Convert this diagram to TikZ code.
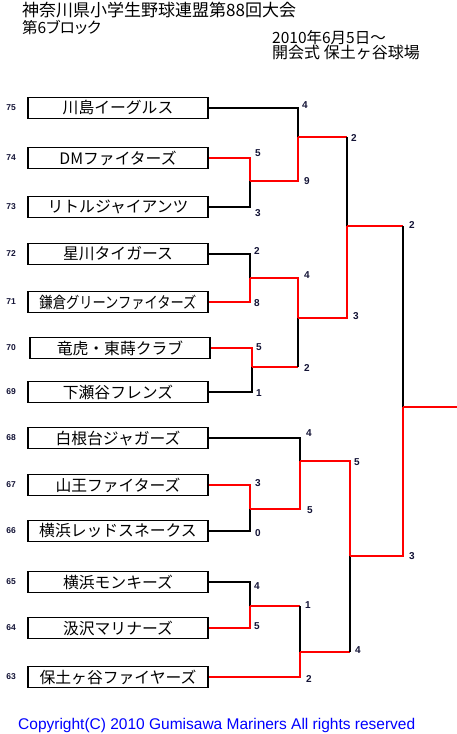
\documentclass[tikz,border=0pt]{standalone}
\usepackage{fontspec}
\setmainfont{Liberation Sans}
\newfontfamily\jpfont{Noto Sans CJK JP}
\newfontfamily\jphead[RawFeature=+palt]{Noto Sans CJK JP}
\usepackage{tikz}
\usetikzlibrary{positioning,calc}
\definecolor{ink}{RGB}{20,20,55}
\definecolor{winred}{RGB}{255,0,0}
\definecolor{copyblue}{RGB}{0,0,255}

\begin{document}
\begin{tikzpicture}[
    x=1pt, y=-1pt,
    team/.style={rectangle, draw, line width=1.8pt, fill=white, minimum width=180pt, minimum height=21pt, inner sep=0pt, font=\jpfont\fontsize{15.8}{16}\selectfont},
    seed/.style={inner sep=0pt, text=ink, font=\bfseries\fontsize{8.5}{9}\selectfont},
    score/.style={inner sep=0pt, text=ink, font=\bfseries\fontsize{10}{11}\selectfont},
    head/.style={anchor=base west, inner sep=0pt, font=\jpfont\fontsize{16}{16}\selectfont},
    lose/.style={line width=1.6pt, black},
    win/.style={line width=1.6pt, winred}
]
\useasboundingbox (0,0) rectangle (457,734);
\fill[white] (0,0) rectangle (457,734);

% Header
\node[head, font=\jpfont\fontsize{17}{17}\selectfont] (title) at (22,16) {神奈川県小学生野球連盟第88回大会};
\node[head, font=\jphead\fontsize{15.5}{16}\selectfont] (block) at (22,33) {第6ブロック};
\node[head, font=\jpfont\fontsize{15.5}{16}\selectfont] (date) at (272,43) {2010年6月5日～};
\node[head] (venue) at (272,58) {開会式 保土ヶ谷球場};

% Teams
\node[team] (t75) at (118,108) {川島イーグルス};
\node[team] (t74) at (118,158) {DMファイターズ};
\node[team] (t73) at (118,207) {リトルジャイアンツ};
\node[team] (t72) at (118,254) {星川タイガース};
\node[team] (t71) at (118,302) {\scalebox{0.84}[1]{鎌倉グリーンファイターズ}};
\node[team] (t70) at (120,348) {竜虎・東蒔クラブ};
\node[team] (t69) at (118,392) {下瀬谷フレンズ};
\node[team] (t68) at (118,438) {白根台ジャガーズ};
\node[team] (t67) at (118,485) {山王ファイターズ};
\node[team] (t66) at (118,531) {横浜レッドスネークス};
\node[team] (t65) at (118,582) {横浜モンキーズ};
\node[team] (t64) at (118,628) {汲沢マリナーズ};
\node[team] (t63) at (118,677) {保土ヶ谷ファイヤーズ};

% Seeds
\node[seed, left=11pt of t75] (n75) {75};
\node[seed, left=11pt of t74] (n74) {74};
\node[seed, left=11pt of t73] (n73) {73};
\node[seed, left=11pt of t72] (n72) {72};
\node[seed, left=11pt of t71] (n71) {71};
\node[seed, left=13pt of t70] (n70) {70};
\node[seed, left=11pt of t69] (n69) {69};
\node[seed, left=11pt of t68] (n68) {68};
\node[seed, left=11pt of t67] (n67) {67};
\node[seed, left=11pt of t66] (n66) {66};
\node[seed, left=11pt of t65] (n65) {65};
\node[seed, left=11pt of t64] (n64) {64};
\node[seed, left=11pt of t63] (n63) {63};

% Junctions
\coordinate (m1) at (250,181);
\coordinate (m2) at (250,278);
\coordinate (m3) at (252,367);
\coordinate (m4) at (250,509);
\coordinate (m5) at (250,606);
\coordinate (q1) at (298,137);
\coordinate (q2) at (298,318);
\coordinate (q3) at (300,461);
\coordinate (q4) at (300,652);
\coordinate (s1) at (347,226);
\coordinate (s2) at (350,556);
\coordinate (f) at (403,407);
\coordinate (champ) at (457,407);

% First round
\draw[lose] (t73.east) -| (m1);
\draw[win] (t74.east) -| (m1);
\draw[lose] (t72.east) -| (m2);
\draw[win] (t71.east) -| (m2);
\draw[lose] (t69.east) -| (m3);
\draw[win] (t70.east) -| (m3);
\draw[lose] (t66.east) -| (m4);
\draw[win] (t67.east) -| (m4);
\draw[lose] (t65.east) -| (m5);
\draw[win] (t64.east) -| (m5);

% Second round
\draw[lose] (t75.east) -| (q1);
\draw[win] (m1) -| (q1);
\draw[win] (m3) -- (m3 -| q2);
\draw[lose] (m3 -| q2) -- (q2);
\draw[win] (m2) -| (q2);
\draw[lose] (t68.east) -| (q3);
\draw[win] (m4) -| (q3);
\draw[win] (m5) -- (m5 -| q4);
\draw[lose] (m5 -| q4) -- (q4);
\draw[win] (t63.east) -| (q4);

% Semi finals
\draw[win] (q1) -- (q1 -| s1);
\draw[lose] (q1 -| s1) -- (s1);
\draw[win] (q2) -| (s1);
\draw[win] (q4) -- (q4 -| s2);
\draw[lose] (q4 -| s2) -- (s2);
\draw[win] (q3) -| (s2);

% Final
\draw[win] (s1) -- (s1 -| f);
\draw[lose] (s1 -| f) -- (f);
\draw[win] (s2) -| (f);
\draw[win] (f) -- (champ);

% Scores
\node[score] (c75) at (305,105) {4};
\node[score] (c74) at (258,153) {5};
\node[score] (c73) at (258,213) {3};
\node[score] (cm1) at (307,181) {9};
\node[score] (cq1) at (354,138) {2};
\node[score] (cs1) at (412,225) {2};
\node[score] (c72) at (257,251) {2};
\node[score] (c71) at (257,303) {8};
\node[score] (cm2) at (307,275) {4};
\node[score] (c70) at (259,347) {5};
\node[score] (c69) at (259,393) {1};
\node[score] (cm3) at (307,368) {2};
\node[score] (cq2) at (356,316) {3};
\node[score] (c68) at (309,433) {4};
\node[score] (c67) at (258,483) {3};
\node[score] (c66) at (258,533) {0};
\node[score] (cm4) at (310,510) {5};
\node[score] (cq3) at (357,462) {5};
\node[score] (c65) at (257,586) {4};
\node[score] (c64) at (257,626) {5};
\node[score] (cm5) at (308,605) {1};
\node[score] (c63) at (309,679) {2};
\node[score] (cq4) at (358,650) {4};
\node[score] (cs2) at (412,556) {3};

% Footer
\node[anchor=base west, inner sep=0pt, text=copyblue, font=\fontsize{15.5}{16}\selectfont] (copy) at (18,729) {Copyright(C) 2010 Gumisawa Mariners All rights reserved};

\end{tikzpicture}
\end{document}
